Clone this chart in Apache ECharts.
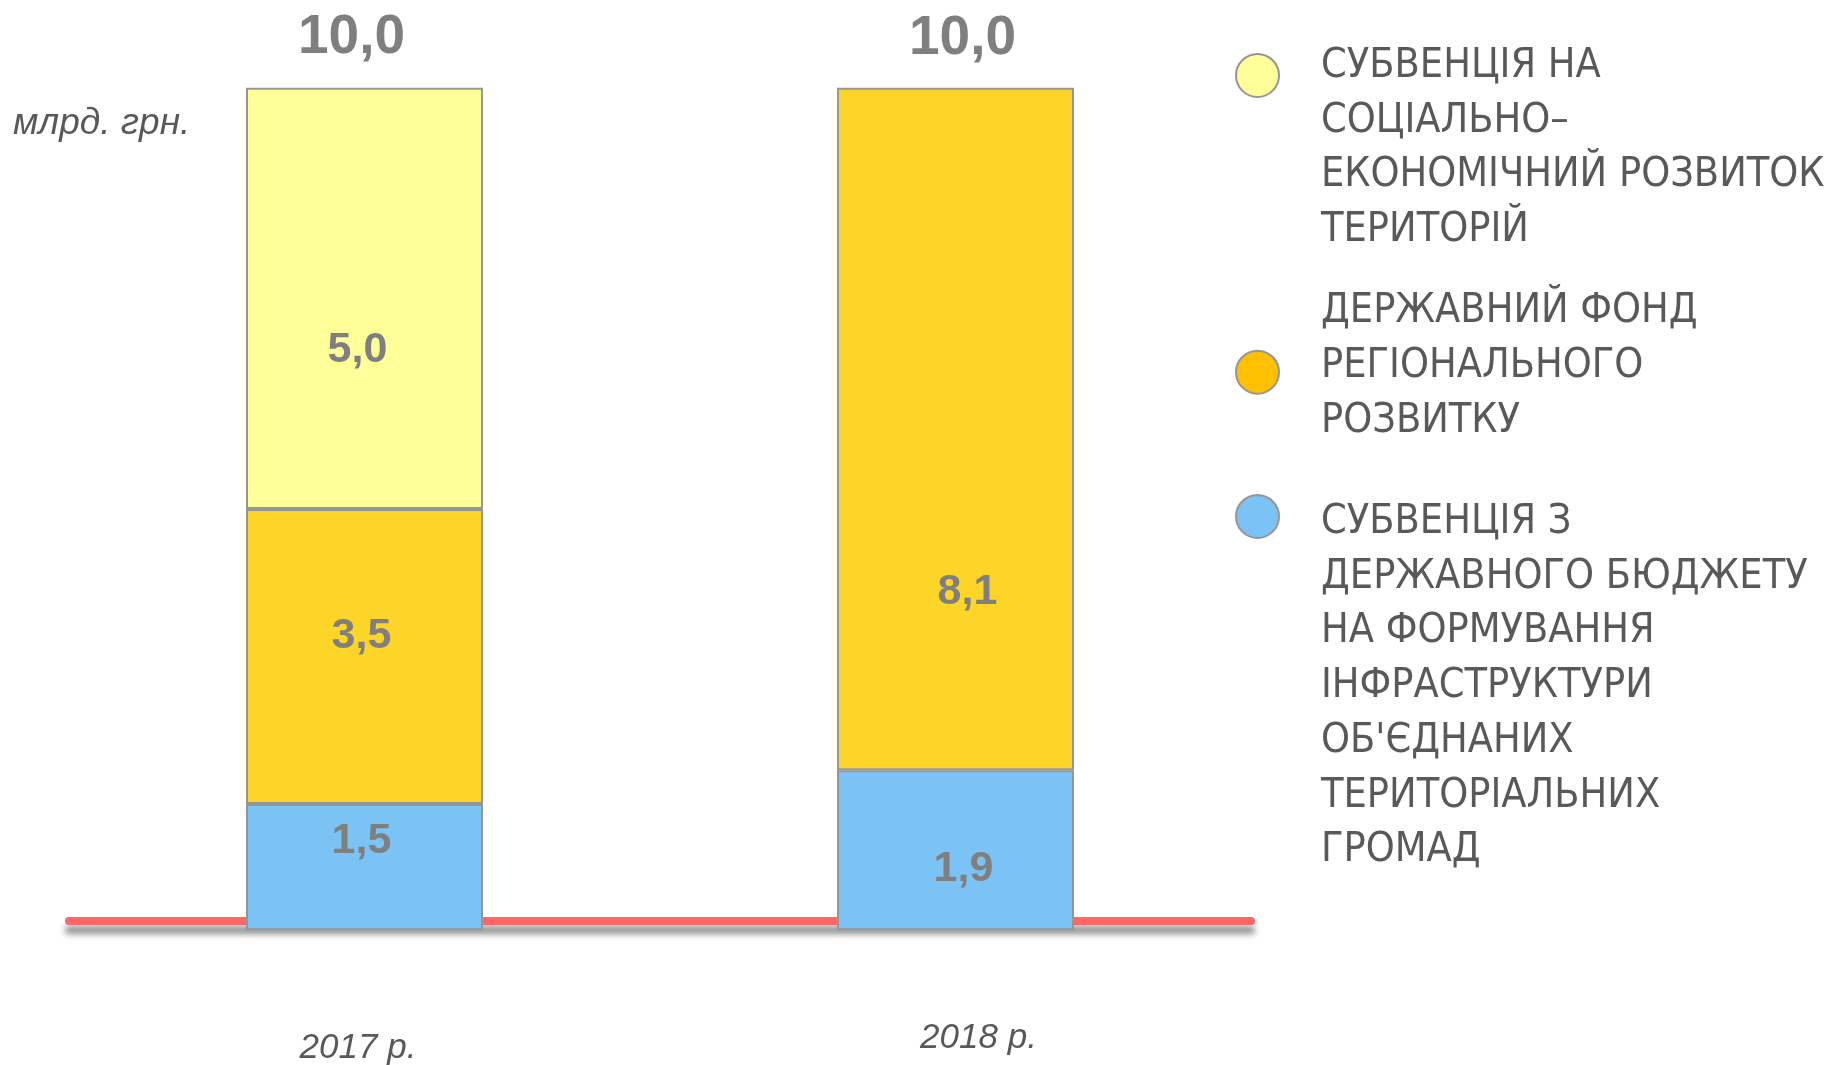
<!DOCTYPE html>
<html>
<head>
<meta charset="utf-8">
<script src="https://cdn.jsdelivr.net/npm/echarts@6/dist/echarts.min.js"></script>
<style>
html,body{margin:0;padding:0;background:#fff;}
#chart{width:1827px;height:1065px;}
</style>
</head>
<body>
<div id="chart"></div>
<script>
// ---- data ----
const categories = ['2017 р.', '2018 р.'];
const seriesNames = [
  'СУБВЕНЦІЯ НА\nСОЦІАЛЬНО–\nЕКОНОМІЧНИЙ РОЗВИТОК\nТЕРИТОРІЙ',
  'ДЕРЖАВНИЙ ФОНД\nРЕГІОНАЛЬНОГО\nРОЗВИТКУ',
  'СУБВЕНЦІЯ З\nДЕРЖАВНОГО БЮДЖЕТУ\nНА ФОРМУВАННЯ\nІНФРАСТРУКТУРИ\nОБ\'ЄДНАНИХ\nТЕРИТОРІАЛЬНИХ\nГРОМАД'
];
const socialEconomic = [5.0, null];   // субвенція на соц.-екон. розвиток
const regionalFund   = [3.5, 8.1];    // ДФРР
const otgInfra       = [1.5, 1.9];    // субвенція ОТГ
const unitLabel = 'млрд. грн.';

const totals = categories.map((_, i) =>
  (socialEconomic[i] || 0) + (regionalFund[i] || 0) + (otgInfra[i] || 0));

const fmt = v => (v == null ? '' : Number(v).toFixed(1).replace('.', ','));

const chart = echarts.init(document.getElementById('chart'));

const narrow = '"DejaVu Sans Condensed", "Liberation Sans", sans-serif';
const labelFont = {
  fontFamily: 'Liberation Sans, Arial, sans-serif',
  fontWeight: 'bold',
  color: '#7F7F7F'
};
const legendTextStyle = {
  fontFamily: narrow,
  fontSize: 41,
  color: '#595959',
  lineHeight: 54.7
};
const border = { borderColor: '#969696', borderWidth: 2 };
const ellipse = 'path://M0,50 A50,50 0 1,1 100,50 A50,50 0 1,1 0,50 Z';

function withOffsets(arr, offsets) {
  return arr.map((v, i) => ({ value: v, label: { offset: offsets[i] } }));
}
function legendCfg(item, top, before, after) {
  return {
    data: [item],
    left: 1235, top: top, padding: 0,
    itemWidth: 43, itemHeight: 48,
    icon: ellipse,
    selectedMode: false,
    formatter: name =>
      (before ? '{sp1| }\n' : '') + '{t|' + name + '}' + (after ? '\n{sp2| }' : ''),
    textStyle: {
      padding: [0, 0, 0, 37],
      rich: {
        t: legendTextStyle,
        sp1: { fontSize: 10, lineHeight: before || 10 },
        sp2: { fontSize: 10, lineHeight: after || 10 }
      }
    }
  };
}

const option = {
  backgroundColor: '#ffffff',
  animation: false,
  title: {
    text: unitLabel,
    left: 8,
    top: 100,
    textStyle: {
      fontFamily: 'Liberation Sans, Arial, sans-serif',
      fontStyle: 'italic',
      fontWeight: 'normal',
      fontSize: 37,
      color: '#595959'
    }
  },
  legend: [
    legendCfg(seriesNames[0], -39, 146, 0),
    legendCfg({ name: seriesNames[1], itemStyle: { color: '#FFC000' } }, 291, 0, 12),
    legendCfg(seriesNames[2], 320, 340, 0)
  ],
  grid: { left: 69, right: 576, top: 87.7, bottom: 134.7, outerBoundsMode: 'none', containLabel: false },
  xAxis: {
    type: 'category',
    data: [
      { value: categories[0], textStyle: { padding: [10, 13, 0, 0] } },
      { value: categories[1], textStyle: { padding: [0, 0, 10, 46] } }
    ],
    offset: -10,
    axisLine: {
      show: true,
      lineStyle: {
        color: '#FF6666', width: 8,
        shadowColor: 'rgba(0,0,0,0.45)', shadowBlur: 6, shadowOffsetY: 9
      }
    },
    axisTick: { show: false },
    axisLabel: {
      margin: 100,
      fontFamily: 'Liberation Sans, Arial, sans-serif',
      fontStyle: 'italic',
      fontSize: 35,
      color: '#595959'
    }
  },
  yAxis: { type: 'value', min: 0, max: 10, show: false },
  series: [
    {
      name: seriesNames[2],
      type: 'bar', stack: 'total', barWidth: 237,
      itemStyle: Object.assign({ color: '#7BC3F5' }, border),
      label: Object.assign({ show: true, position: 'inside', fontSize: 43,
        formatter: p => fmt(p.value) }, labelFont),
      data: withOffsets(otgInfra, [[-3, -26], [8, 19]])
    },
    {
      name: seriesNames[1],
      type: 'bar', stack: 'total', barWidth: 237,
      itemStyle: Object.assign({ color: '#FDD428' }, border),
      label: Object.assign({ show: true, position: 'inside', fontSize: 43,
        formatter: p => fmt(p.value) }, labelFont),
      data: withOffsets(regionalFund, [[-3, -20], [12, 163]])
    },
    {
      name: seriesNames[0],
      type: 'bar', stack: 'total', barWidth: 237,
      itemStyle: Object.assign({ color: '#FFFF99' }, border),
      label: Object.assign({ show: true, position: 'inside', fontSize: 43,
        formatter: p => fmt(p.value) }, labelFont),
      data: withOffsets(socialEconomic, [[-7, 52], [0, 0]])
    },
    {
      name: 'total',
      type: 'bar', stack: 'total', barWidth: 237,
      itemStyle: { color: 'rgba(0,0,0,0)', borderWidth: 0 },
      label: Object.assign({ show: true, position: 'inside', fontSize: 55,
        formatter: p => fmt(totals[p.dataIndex]) }, labelFont),
      data: totals.map((t, i) => ({ value: 0, label: { offset: [[-13, -50], [7, -49]][i] } })),
      silent: true
    }
  ]
};
chart.setOption(option);
</script>
</body>
</html>
